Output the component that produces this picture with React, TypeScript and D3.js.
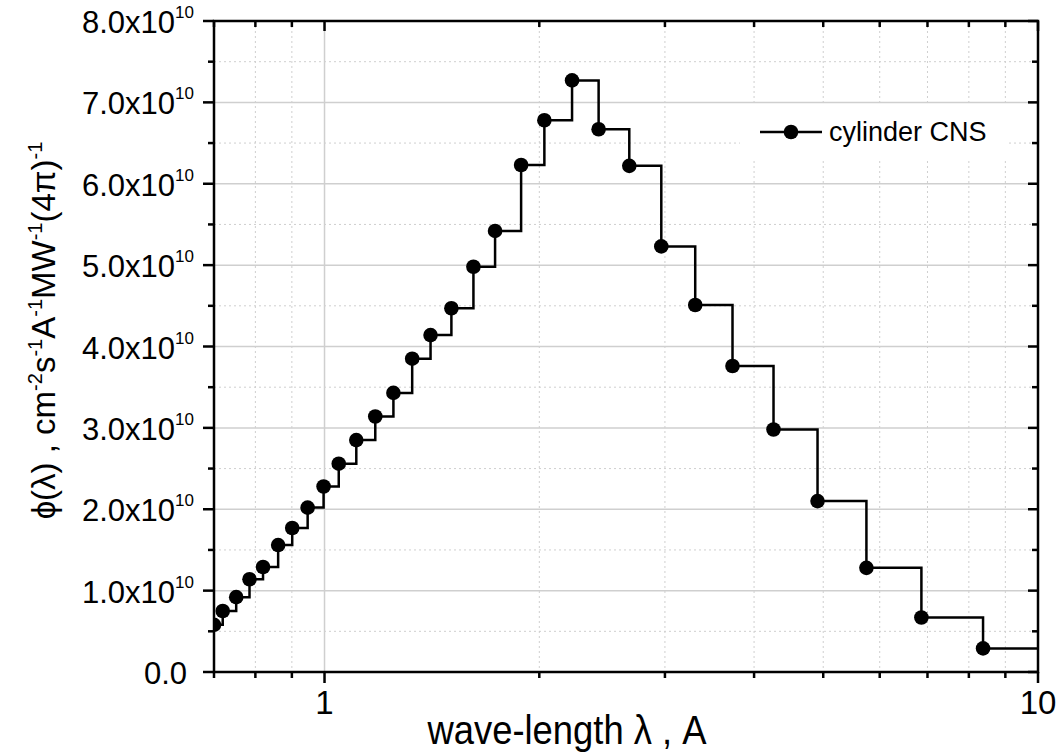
import React from 'react';
import * as d3 from 'd3';

// wavelength (A), left edge of each step
const lambda = [0.70, 0.72, 0.752, 0.785, 0.82, 0.861, 0.901, 0.947, 0.997, 1.047, 1.108, 1.178, 1.249, 1.327, 1.408, 1.506, 1.617, 1.734, 1.886, 2.033, 2.223, 2.422, 2.674, 2.965, 3.308, 3.731, 4.259, 4.909, 5.748, 6.864, 8.375];
// flux, units of 1e10
const flux = [0.58, 0.75, 0.92, 1.14, 1.29, 1.56, 1.77, 2.02, 2.28, 2.56, 2.85, 3.14, 3.43, 3.85, 4.14, 4.47, 4.98, 5.42, 6.23, 6.78, 7.27, 6.67, 6.22, 5.23, 4.51, 3.76, 2.98, 2.10, 1.28, 0.67, 0.29];

const xMajorTicks = [1, 10];
const xMinorTicks = [0.8, 0.9, 2, 3, 4, 5, 6, 7, 8, 9];
const yMajorTicks = [0, 1, 2, 3, 4, 5, 6, 7, 8];
const yMinorTicks = [0.5, 1.5, 2.5, 3.5, 4.5, 5.5, 6.5, 7.5];
const seriesName = 'cylinder CNS';

const W = 1062, H = 756;
const margin = { top: 21, right: 24, bottom: 84, left: 214 };
const FONT = '"Liberation Sans", Arial, sans-serif';

export default function App() {
  const iw = W - margin.left - margin.right;
  const ih = H - margin.top - margin.bottom;
  const x = d3.scaleLog().domain([0.7, 10]).range([0, iw]);
  const y = d3.scaleLinear().domain([0, 8]).range([ih, 0]);

  const pts: [number, number][] = lambda.map((l, i) => [l, flux[i]]);
  const line = d3.line<[number, number]>()
    .x(d => x(d[0]))
    .y(d => y(d[1]))
    .curve(d3.curveStepAfter);
  const path = line([...pts, [x.domain()[1], flux[flux.length - 1]]]) || '';

  const grid = '#cfcfcf';

  return (
    <svg width={W} height={H} style={{ display: 'block', position: 'absolute', left: 0, top: 0, background: '#fff' }}
      fontFamily={FONT}>
      <defs>
        <clipPath id="plot">
          <rect x={0} y={0} width={iw} height={ih} />
        </clipPath>
      </defs>
      <g transform={`translate(${margin.left},${margin.top})`}>
        {/* minor grid */}
        {yMinorTicks.map(v => (
          <line key={'ym' + v} x1={0} x2={iw} y1={y(v)} y2={y(v)} stroke={grid} strokeDasharray="2,3" />
        ))}
        {xMinorTicks.map(v => (
          <line key={'xm' + v} x1={x(v)} x2={x(v)} y1={0} y2={ih} stroke={grid} strokeDasharray="2,3" />
        ))}
        {/* major grid */}
        {yMajorTicks.map(v => (
          <line key={'yg' + v} x1={0} x2={iw} y1={y(v)} y2={y(v)} stroke={grid} strokeWidth={1.5} />
        ))}
        {xMajorTicks.map(v => (
          <line key={'xg' + v} x1={x(v)} x2={x(v)} y1={0} y2={ih} stroke={grid} strokeWidth={1.5} />
        ))}

        {/* legend box */}
        <rect x={526} y={84} width={266} height={54} fill="#fff" />

        <g clipPath="url(#plot)">
          <path d={path} fill="none" stroke="#000" strokeWidth={2.5} />
          {pts.map((d, i) => (
            <circle key={i} cx={x(d[0])} cy={y(d[1])} r={7.3} fill="#000" />
          ))}
        </g>

        {/* legend */}
        <g transform="translate(546,111)">
          <line x1={0} x2={62} y1={0} y2={0} stroke="#000" strokeWidth={2.5} />
          <circle cx={31} cy={0} r={7.3} fill="#000" />
          <text x={69} y={9} fontSize={27}>{seriesName}</text>
        </g>

        {/* frame */}
        <rect x={0} y={0} width={iw} height={ih} fill="none" stroke="#000" strokeWidth={2.5} />

        {/* left / right ticks */}
        {yMajorTicks.map(v => (
          <g key={'yt' + v}>
            <line x1={-11} x2={0} y1={y(v)} y2={y(v)} stroke="#000" strokeWidth={2.5} />
            <line x1={iw - 10} x2={iw} y1={y(v)} y2={y(v)} stroke="#000" strokeWidth={2.5} />
            <text x={v === 0 ? -27 : -20} y={y(v) + 12} textAnchor="end" fontSize={31}>
              {v === 0 ? '0.0' : `${v.toFixed(1)}x10`}
              {v !== 0 && <tspan dy={-15} fontSize={17}>10</tspan>}
            </text>
          </g>
        ))}
        {yMinorTicks.map(v => (
          <g key={'ymt' + v}>
            <line x1={-6} x2={0} y1={y(v)} y2={y(v)} stroke="#000" strokeWidth={2.5} />
            <line x1={iw - 6} x2={iw} y1={y(v)} y2={y(v)} stroke="#000" strokeWidth={2.5} />
          </g>
        ))}

        {/* bottom / top ticks */}
        {xMajorTicks.map(v => (
          <g key={'xt' + v}>
            <line x1={x(v)} x2={x(v)} y1={ih} y2={ih + 11} stroke="#000" strokeWidth={2.5} />
            <line x1={x(v)} x2={x(v)} y1={0} y2={10} stroke="#000" strokeWidth={2.5} />
            <text x={x(v)} y={ih + 42} textAnchor="middle" fontSize={33}>{v}</text>
          </g>
        ))}
        {[0.7, ...xMinorTicks].map(v => (
          <g key={'xmt' + v}>
            <line x1={x(v)} x2={x(v)} y1={ih} y2={ih + 6} stroke="#000" strokeWidth={2.5} />
            <line x1={x(v)} x2={x(v)} y1={0} y2={6} stroke="#000" strokeWidth={2.5} />
          </g>
        ))}

        {/* axis titles */}
        <text transform={`translate(${567 - margin.left},${ih + 72}) scale(0.91,1)`} textAnchor="middle" fontSize={40}>
          wave-length λ , A
        </text>
        <text transform={`translate(-159,${y(4) - 16}) rotate(-90)`} textAnchor="middle" fontSize={33}>
          ϕ(λ)  , cm<tspan dy={-13} fontSize={20}>-2</tspan>
          <tspan dy={13}>s</tspan><tspan dy={-13} fontSize={20}>-1</tspan>
          <tspan dy={13}>A</tspan><tspan dy={-13} fontSize={20}>-1</tspan>
          <tspan dy={13}>MW</tspan><tspan dy={-13} fontSize={20}>-1</tspan>
          <tspan dy={13}>(4π)</tspan><tspan dy={-13} fontSize={20}>-1</tspan>
        </text>
      </g>
    </svg>
  );
}
